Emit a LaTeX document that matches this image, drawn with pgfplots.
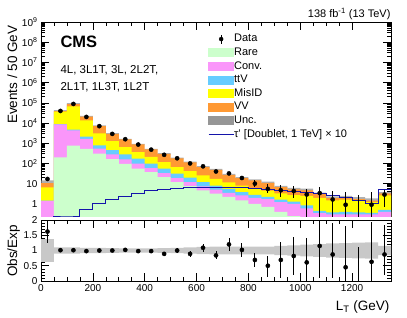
\documentclass[border=0pt]{standalone}
\usepackage{pgfplots}
\pgfplotsset{compat=1.18}
\usepackage{pgfplotstable}
\usepgfplotslibrary{fillbetween}
\usepackage{fontspec}
\setmainfont{Liberation Sans}

\definecolor{rarecol}{RGB}{204,255,204}
\definecolor{convcol}{RGB}{250,150,250}
\definecolor{ttvcol}{RGB}{102,204,255}
\definecolor{misidcol}{RGB}{255,255,0}
\definecolor{vvcol}{RGB}{255,153,51}
\definecolor{sigcol}{RGB}{20,20,170}
\definecolor{unccol}{RGB}{150,150,150}
\definecolor{bandcol}{RGB}{200,200,200}

% cumulative stack tops per bin (left edge x); first and last rows close the area at the bottom
\pgfplotstableread{
x    G     P     B     Y      O
0    0.001 0.001 0.001 0.001  0.001
0    0.1   1.4   1.45  6.6    10.5
50   200   8600  8700  37000  39000
100  760   4300  4700  66000  87000
150  520   1650  2100  13600  20500
200  305   540   790   3050   7000
250  165   280   460   1260   2900
300  95    160   280   650    1550
350  55    98    173   365    880
400  37    59    98    210    490
450  21    33    55    117    300
500  12    19    31    66     180
550  7.6   12    20    42     112
600  4.7   7.4   12    26     66
650  3.2   5.0   8.0   17     48
700  2.2   3.5   5.5   11.5   27
750  1.5   2.6   3.8   8      18.5
800  1.0   2.0   2.8   5.8    14.5
850  0.7   1.7   2.2   4.5    11
900  0.4   1.2   1.6   3.3    6.8
950  0.25  1.0   1.3   2.7    5.2
1000 0.15  0.6   0.85  2.5    4.7
1050 0.1   0.35  0.45  2.0    3.0
1100 0.08  0.3   0.38  1.5    1.9
1150 0.06  0.3   0.4   1.6    2.0
1200 0.05  0.3   0.38  1.4    1.7
1250 0.04  0.3   0.36  1.2    1.45
1300 0.05  0.4   0.5   2.6    3.3
1350 0.05  0.4   0.5   2.6    3.3
1350 0.001 0.001 0.001 0.001  0.001
}\stk

% uncertainty band (absolute, top panel) and relative (ratio panel)
\pgfplotstableread{
x    ohi     olo     rhi   rlo
0    14.39   6.62    1.37  0.63
50   42900   35100   1.10  0.90
100  95700   78300   1.10  0.90
150  22345   18655   1.09  0.91
200  7630    6370    1.09  0.91
250  3132    2668    1.08  0.92
300  1658.5  1441.5  1.07  0.93
350  941.6   818.4   1.07  0.93
400  524.3   455.7   1.07  0.93
450  324     276     1.08  0.92
500  196.2   163.8   1.09  0.91
550  123.2   100.8   1.10  0.90
600  73.92   58.08   1.12  0.88
650  54.24   41.76   1.13  0.87
700  30.51   23.49   1.13  0.87
750  20.905  16.095  1.13  0.87
800  16.385  12.615  1.13  0.87
850  12.43   9.57    1.13  0.87
900  7.82    5.78    1.15  0.85
950  6.084   4.316   1.17  0.83
1000 5.593   3.807   1.19  0.81
1050 3.63    2.37    1.21  0.79
1100 2.337   1.463   1.23  0.77
1150 2.48    1.52    1.24  0.76
1200 2.142   1.258   1.26  0.74
1250 1.8415  1.0585  1.27  0.73
1300 3.795   2.805   1.15  0.85
1350 3.795   2.805   1.15  0.85
}\unc

\pgfplotstableread{
x    s
0    0.01
50   0.25
100  0.25
150  0.53
200  1.1
250  1.7
300  2.4
350  3.4
400  4.5
450  5.4
500  5.9
550  6.4
600  6.6
650  6.7
700  6.6
750  6.3
800  5.9
850  5.3
900  4.8
950  4.2
1000 3.6
1050 3.1
1100 2.5
1150 2.0
1200 1.5
1250 1.05
1300 5.0
1350 5.0
}\sig

\pgfplotstableread{
x     n      ep    em    r     rp    rm
25    17     4.1   4.1   1.62  0.36  0.38
75    39500  199   199   1.01  0.01  0.01
125   88000  297   297   1.01  0.01  0.01
175   20000  141   141   0.98  0.01  0.01
225   7000   84    84    1.00  0.012 0.012
275   2900   54    54    1.00  0.02  0.02
325   1580   40    40    1.02  0.026 0.026
375   860    29    29    0.98  0.033 0.033
425   480    22    22    0.98  0.045 0.045
475   267    16    16    0.89  0.055 0.055
525   180    13.4  13.4  1.00  0.075 0.075
575   100    10    10    0.89  0.09  0.09
625   72     8.5   8.5   1.09  0.13  0.13
675   40     6.3   6.3   0.84  0.13  0.13
725   32     5.7   5.7   1.20  0.21  0.21
775   19     4.4   4.4   1.02  0.24  0.24
825   10     5     3.2   0.69  0.22  0.22
875   5.5    3.7   2.2   0.50  0.32  0.36
925   4.7    3.5   2.5   0.69  0.58  0.59
975   4.3    3.1   2.4   0.82  0.63  0.62
1025  2.9    2.7   2.8   0.61  0.80  0.61
1075  3.4    3.4   3.3   1.15  0.85  1.05
1125  1.65   2.65  1.6   0.87  1.03  0.77
1175  0.9    3.0   0.85  0.45  1.35  0.45
1275  0.91   2.9   0.86  0.63  1.30  0.63
1325  2.87   1.9   2.2   0.87  0.98  0.67
}\data

\pgfplotsset{
  cmsaxis/.style={
    scale only axis, width=350pt,
    xmin=0, xmax=1350,
    xtick={0,200,...,1200}, minor x tick num=3,
    tick align=inside,
    axis line style={black, line width=0.8pt},
    tick style={black, line width=0.6pt},
    major tick length=8pt, minor tick length=4pt,
    tick label style={font=\fontsize{10}{12}\selectfont},
    /pgf/number format/assume math mode=true,
  },
}

\begin{document}
\begin{tikzpicture}

\begin{axis}[cmsaxis,
  at={(41pt,101pt)}, anchor=south west, height=194pt,
  ymode=log, ymin=0.25, ymax=1e9,
  xticklabels={},
  ytick={1,10,100,1000,10000,100000,1000000,10000000,100000000,1000000000},
  yticklabels={1,10,10\textsuperscript{2},10\textsuperscript{3},10\textsuperscript{4},10\textsuperscript{5},10\textsuperscript{6},10\textsuperscript{7},10\textsuperscript{8},10\textsuperscript{9}},
  legend style={at={(0.477,0.94)}, anchor=north west, draw=none, fill=none,
    font=\fontsize{11}{13}\selectfont, inner sep=0pt, row sep=3.1pt,
    nodes={inner sep=0pt, text height=8pt, text depth=2.5pt},
    /tikz/every even column/.append style={column sep=6pt}},
  legend cell align=left,
]
\addplot[fill=vvcol, draw=none, const plot, forget plot] table[x=x,y=O]{\stk};
\addplot[fill=misidcol, draw=none, const plot, forget plot] table[x=x,y=Y]{\stk};
\addplot[fill=ttvcol, draw=none, const plot, forget plot] table[x=x,y=B]{\stk};
\addplot[fill=convcol, draw=none, const plot, forget plot] table[x=x,y=P]{\stk};
\addplot[fill=rarecol, draw=none, const plot, forget plot] table[x=x,y=G]{\stk};

\addplot[name path=uh, draw=none, const plot, forget plot] table[x=x,y=ohi]{\unc};
\addplot[name path=ul, draw=none, const plot, forget plot] table[x=x,y=olo]{\unc};
\addplot[fill=unccol, fill opacity=0.75, forget plot] fill between[of=uh and ul];

\addplot[sigcol, line width=1pt, const plot, forget plot] table[x=x,y=s]{\sig};

\addplot[black, only marks, mark=*, mark size=2.1pt, forget plot,
  error bars/.cd, y dir=both, y explicit, error mark=none,
  error bar style={line width=0.9pt}]
  table[x=x, y=n, y error plus=ep, y error minus=em]{\data};
\addplot[black, line width=0.9pt, forget plot] coordinates {(1225,0.01) (1225,2.6)};

\addlegendimage{legend image code/.code={\draw[black, line width=0.9pt] (12.5pt,-4.5pt)--(12.5pt,4.5pt); \fill[black] (12.5pt,0pt) circle (2pt);}}
\addlegendentry{Data}
\addlegendimage{legend image code/.code={\fill[rarecol] (0pt,-4pt) rectangle (25pt,4pt);}}
\addlegendentry{Rare}
\addlegendimage{legend image code/.code={\fill[convcol] (0pt,-4pt) rectangle (25pt,4pt);}}
\addlegendentry{Conv.}
\addlegendimage{legend image code/.code={\fill[ttvcol] (0pt,-4pt) rectangle (25pt,4pt);}}
\addlegendentry{ttV}
\addlegendimage{legend image code/.code={\fill[misidcol] (0pt,-4pt) rectangle (25pt,4pt);}}
\addlegendentry{MisID}
\addlegendimage{legend image code/.code={\fill[vvcol] (0pt,-4pt) rectangle (25pt,4pt);}}
\addlegendentry{VV}
\addlegendimage{legend image code/.code={\fill[unccol] (0pt,-4pt) rectangle (25pt,4pt);}}
\addlegendentry{Unc.}
\addlegendimage{legend image code/.code={\draw[sigcol, line width=1pt] (0pt,0pt)--(25pt,0pt);}}
\addlegendentry{τ' [Doublet, 1 TeV] × 10}
\end{axis}

\begin{axis}[cmsaxis,
  at={(41pt,36pt)}, anchor=south west, height=61pt,
  ymin=0, ymax=2, ytick={0,0.5,1,1.5,2}, yticklabels={0,0.5,1,1.5,2},
  minor y tick num=4,
  xticklabels={0,200,400,600,800,1000,1200},
]
\addplot[name path=rh, draw=none, const plot] table[x=x,y=rhi]{\unc};
\addplot[name path=rl, draw=none, const plot] table[x=x,y=rlo]{\unc};
\addplot[fill=bandcol, draw=none] fill between[of=rh and rl];
\addplot[black, only marks, mark=*, mark size=2.1pt,
  error bars/.cd, y dir=both, y explicit, error mark=none,
  error bar style={line width=0.9pt}]
  table[x=x, y=r, y error plus=rp, y error minus=rm]{\data};
\addplot[black, line width=0.9pt] coordinates {(1225,0) (1225,1.1)};
\end{axis}

\node[anchor=base west, font=\bfseries\fontsize{16.5}{18}\selectfont] at (57pt,270pt) {CMS};
\node[anchor=base west, font=\fontsize{11.5}{13}\selectfont] at (57pt,244pt) {4L, 3L1T, 3L, 2L2T,};
\node[anchor=base west, font=\fontsize{11.5}{13}\selectfont] at (57pt,227pt) {2L1T, 1L3T, 1L2T};
\node[anchor=base east, font=\fontsize{11}{13}\selectfont] at (394pt,300pt) {138 fb\textsuperscript{-1} (13 TeV)};
\node[anchor=base east, rotate=90, font=\fontsize{13.5}{15}\selectfont] at (17pt,295pt) {Events / 50 GeV};
\node[anchor=base, rotate=90, font=\fontsize{13.5}{15}\selectfont] at (17pt,66pt) {Obs/Exp};
\node[anchor=base east, font=\fontsize{13.5}{15}\selectfont] at (393pt,7pt) {L\textsubscript{T} (GeV)};
\path (0pt,0pt) rectangle (407pt,317pt);
\end{tikzpicture}
\end{document}
